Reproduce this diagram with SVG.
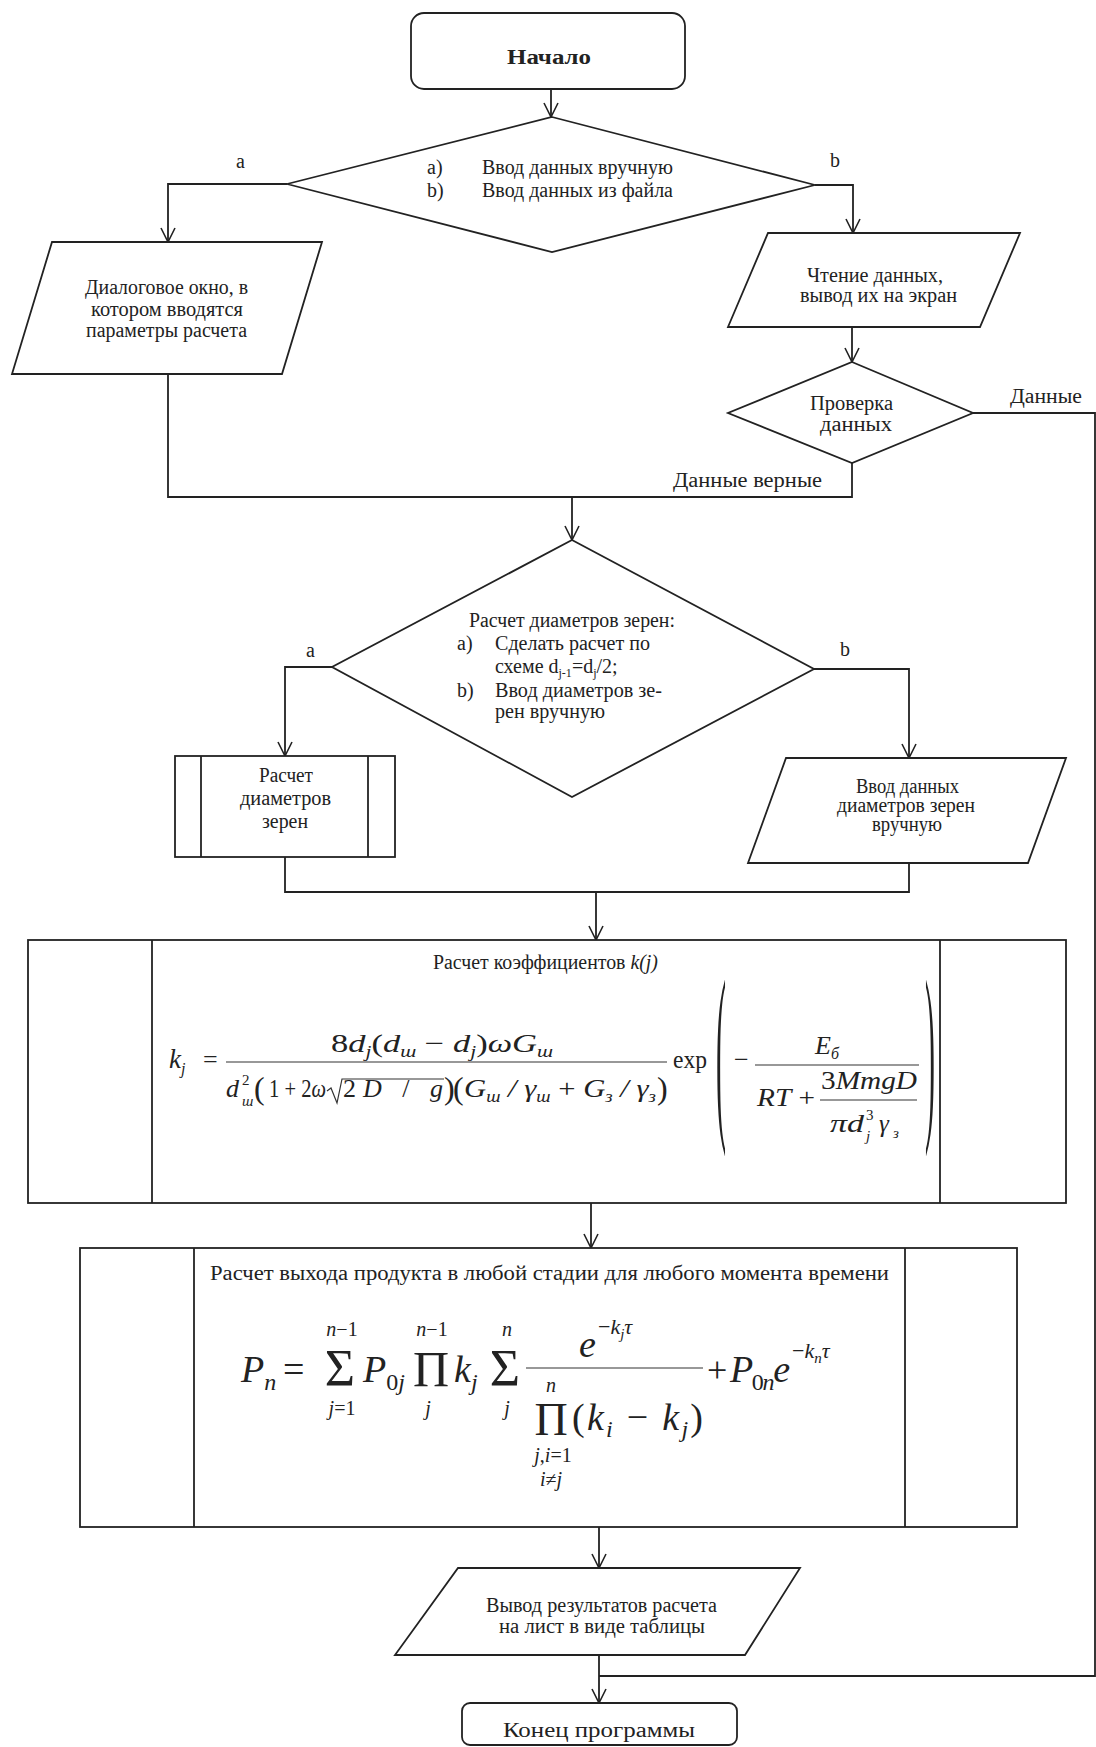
<svg xmlns="http://www.w3.org/2000/svg" width="1096" height="1747" viewBox="0 0 1096 1747">
<style>
  .t { font-family: "Liberation Serif", "Times New Roman", serif; font-size: 20px; fill: #222; }
  .b { font-weight: bold; }
  .m { font-family: "Liberation Serif", "Times New Roman", serif; font-style: italic; fill: #222; }
  .r { font-style: normal; }
  .shape { fill: #fff; stroke: #222; stroke-width: 1.8; }
  .ln { fill: none; stroke: #222; stroke-width: 1.8; }
  .conn path { fill: none; stroke: #222; stroke-width: 1.8; }
  .bar { stroke: #333; stroke-width: 1.2; }
</style>
<defs>
  <marker id="arr" viewBox="0 0 16 16" refX="15" refY="8" markerWidth="16" markerHeight="16" markerUnits="userSpaceOnUse" orient="auto">
    <path d="M1,1 L15,8 L1,15" fill="none" stroke="#222" stroke-width="1.6"/>
  </marker>
</defs>
<rect width="1096" height="1747" fill="#fff"/>

<g id="connectors" class="conn">
  <path d="M551,89 V117" marker-end="url(#arr)"/>
  <path d="M287,184 H168 V242" marker-end="url(#arr)"/>
  <path d="M815,185 H853 V233" marker-end="url(#arr)"/>
  <path d="M852,327 V362" marker-end="url(#arr)"/>
  <path d="M168,374 V497 H852 V463"/>
  <path d="M572,497 V540" marker-end="url(#arr)"/>
  <path d="M973,413 H1095 V1676 H599"/>
  <path d="M332,667 H285 V756" marker-end="url(#arr)"/>
  <path d="M814,669 H909 V758" marker-end="url(#arr)"/>
  <path d="M285,857 V892 H909 V863"/>
  <path d="M596,892 V940" marker-end="url(#arr)"/>
  <path d="M591,1203 V1248" marker-end="url(#arr)"/>
  <path d="M599,1527 V1568" marker-end="url(#arr)"/>
  <path d="M599,1655 V1703" marker-end="url(#arr)"/>
  <text class="t" x="236" y="168">a</text>
  <text class="t" x="830" y="167">b</text>
  <text class="t" x="1010" y="403" textLength="72" lengthAdjust="spacingAndGlyphs">Данные</text>
  <text class="t" x="673" y="487" textLength="149" lengthAdjust="spacingAndGlyphs">Данные верные</text>
  <text class="t" x="306" y="657">a</text>
  <text class="t" x="840" y="656">b</text>
</g>

<g id="start">
  <rect class="shape" x="411" y="13" width="274" height="76" rx="13"/>
  <text class="t b" x="507" y="64" font-size="21" textLength="84" lengthAdjust="spacingAndGlyphs">Начало</text>
</g>

<g id="choice-input">
  <polygon class="shape" points="552,117 815,185 552,252 287,184"/>
  <text class="t" x="427" y="174">a)</text>
  <text class="t" x="482" y="174" textLength="191" lengthAdjust="spacingAndGlyphs">Ввод данных вручную</text>
  <text class="t" x="427" y="197">b)</text>
  <text class="t" x="482" y="197" textLength="191" lengthAdjust="spacingAndGlyphs">Ввод данных из файла</text>
</g>

<g id="dialog">
  <polygon class="shape" points="52,242 322,242 282,374 12,374"/>
  <text class="t" x="85" y="294" textLength="163" lengthAdjust="spacingAndGlyphs">Диалоговое окно, в</text>
  <text class="t" x="91" y="316" textLength="152" lengthAdjust="spacingAndGlyphs">котором вводятся</text>
  <text class="t" x="86" y="337" textLength="161" lengthAdjust="spacingAndGlyphs">параметры расчета</text>
</g>

<g id="read-file">
  <polygon class="shape" points="768,233 1020,233 980,327 728,327"/>
  <text class="t" x="807" y="282" textLength="136" lengthAdjust="spacingAndGlyphs">Чтение данных,</text>
  <text class="t" x="800" y="302" textLength="157" lengthAdjust="spacingAndGlyphs">вывод их на экран</text>
</g>

<g id="check">
  <polygon class="shape" points="852,362 973,413 852,463 728,413"/>
  <text class="t" x="810" y="410" textLength="83" lengthAdjust="spacingAndGlyphs">Проверка</text>
  <text class="t" x="820" y="431" textLength="72" lengthAdjust="spacingAndGlyphs">данных</text>
</g>

<g id="choice-diam">
  <polygon class="shape" points="572,540 814,669 572,797 332,667"/>
  <text class="t" x="469" y="627" textLength="206" lengthAdjust="spacingAndGlyphs">Расчет диаметров зерен:</text>
  <text class="t" x="457" y="650">a)</text>
  <text class="t" x="495" y="650" textLength="155" lengthAdjust="spacingAndGlyphs">Сделать расчет по</text>
  <text class="t" x="495" y="673">схеме d<tspan font-size="12" dy="4">j-1</tspan><tspan dy="-4">=d</tspan><tspan font-size="12" dy="4">j</tspan><tspan dy="-4">/2;</tspan></text>
  <text class="t" x="457" y="697">b)</text>
  <text class="t" x="495" y="697" textLength="167" lengthAdjust="spacingAndGlyphs">Ввод диаметров зе-</text>
  <text class="t" x="495" y="718" textLength="110" lengthAdjust="spacingAndGlyphs">рен вручную</text>
</g>

<g id="calc-diam">
  <rect class="shape" x="175" y="756" width="220" height="101"/>
  <line class="ln" x1="201" y1="756" x2="201" y2="857"/>
  <line class="ln" x1="368" y1="756" x2="368" y2="857"/>
  <text class="t" x="259" y="782" textLength="54" lengthAdjust="spacingAndGlyphs">Расчет</text>
  <text class="t" x="240" y="805" textLength="91" lengthAdjust="spacingAndGlyphs">диаметров</text>
  <text class="t" x="262" y="828" textLength="46" lengthAdjust="spacingAndGlyphs">зерен</text>
</g>

<g id="input-diam">
  <polygon class="shape" points="786,758 1066,758 1028,863 748,863"/>
  <text class="t" x="856" y="793" font-size="17" textLength="103" lengthAdjust="spacingAndGlyphs">Ввод данных</text>
  <text class="t" x="837" y="812" font-size="17" textLength="138" lengthAdjust="spacingAndGlyphs">диаметров  зерен</text>
  <text class="t" x="872" y="831" font-size="17" textLength="70" lengthAdjust="spacingAndGlyphs">вручную</text>
</g>

<g id="calc-k">
  <rect class="shape" x="28" y="940" width="1038" height="263"/>
  <line class="ln" x1="152" y1="940" x2="152" y2="1203"/>
  <line class="ln" x1="940" y1="940" x2="940" y2="1203"/>
  <text class="t" x="433" y="969" font-size="18" textLength="225" lengthAdjust="spacingAndGlyphs">Расчет коэффициентов <tspan font-style="italic">k(j)</tspan></text>
  <!-- formula -->
  <text class="m" x="169" y="1068" font-size="27">k<tspan font-size="16" dy="6">j</tspan></text>
  <text class="m r" x="203" y="1068" font-size="26">=</text>
  <line class="bar" x1="226" y1="1062" x2="667" y2="1062"/>
  <text class="m" x="331" y="1052" font-size="26" textLength="222" lengthAdjust="spacingAndGlyphs"><tspan class="r">8</tspan>d<tspan font-size="16" dy="5">j</tspan><tspan class="r" dy="-5">(</tspan>d<tspan font-size="16" dy="5">ш</tspan><tspan class="r" dy="-5"> − </tspan>d<tspan font-size="16" dy="5">j</tspan><tspan class="r" dy="-5">)</tspan>ωG<tspan font-size="16" dy="5">ш</tspan></text>
  <text class="m" x="226" y="1097" font-size="26">d</text>
  <text class="m r" x="242" y="1085" font-size="15">2</text>
  <text class="m" x="242" y="1106" font-size="15">ш</text>
  <text class="m r" x="254" y="1099" font-size="32">(</text>
  <text class="m" x="269" y="1097" font-size="26" textLength="57" lengthAdjust="spacingAndGlyphs"><tspan class="r">1 + 2</tspan>ω</text>
  <polyline class="bar" fill="none" points="327,1091 331,1088 337,1103 342,1079 444,1079"/>
  <text class="m" x="343" y="1097" font-size="26" textLength="100" lengthAdjust="spacing"><tspan class="r">2</tspan>D<tspan class="r"> / </tspan>g</text>
  <text class="m r" x="444" y="1099" font-size="32">)</text>
  <text class="m r" x="453" y="1099" font-size="32">(</text>
  <text class="m" x="464" y="1097" font-size="26" textLength="192" lengthAdjust="spacingAndGlyphs">G<tspan font-size="16" dy="5">ш</tspan><tspan dy="-5"> / </tspan>γ<tspan font-size="16" dy="5">ш</tspan><tspan class="r" dy="-5"> + </tspan>G<tspan font-size="16" dy="5">з</tspan><tspan dy="-5"> / </tspan>γ<tspan font-size="16" dy="5">з</tspan></text>
  <text class="m r" x="657" y="1099" font-size="32">)</text>
  <text class="m r" x="673" y="1068" font-size="26" textLength="34" lengthAdjust="spacingAndGlyphs">exp</text>
  <text class="m r" font-size="30" transform="translate(716,1115) scale(1,6.5)">(</text>
  <text class="m r" font-size="30" transform="translate(925,1115) scale(1,6.5)">)</text>
  <text class="m r" x="734" y="1068" font-size="26">−</text>
  <line class="bar" x1="755" y1="1065" x2="919" y2="1065"/>
  <text class="m" x="815" y="1054" font-size="26">E<tspan font-size="16" dy="5">б</tspan></text>
  <text class="m" x="757" y="1106" font-size="26" textLength="58" lengthAdjust="spacingAndGlyphs">RT<tspan class="r"> +</tspan></text>
  <text class="m" x="821" y="1089" font-size="26" textLength="96" lengthAdjust="spacingAndGlyphs"><tspan class="r">3</tspan>MmgD</text>
  <line class="bar" x1="820" y1="1100" x2="917" y2="1100"/>
  <text class="m" x="830" y="1132" font-size="26" textLength="34" lengthAdjust="spacingAndGlyphs">πd</text>
  <text class="m r" x="866" y="1120" font-size="15">3</text>
  <text class="m" x="866" y="1141" font-size="15">j</text>
  <text class="m" x="879" y="1132" font-size="25">γ</text>
  <text class="m" x="893" y="1138" font-size="15">з</text>
</g>

<g id="calc-p">
  <rect class="shape" x="80" y="1248" width="937" height="279"/>
  <line class="ln" x1="194" y1="1248" x2="194" y2="1527"/>
  <line class="ln" x1="905" y1="1248" x2="905" y2="1527"/>
  <text class="t" x="210" y="1280" font-size="21" textLength="679" lengthAdjust="spacingAndGlyphs">Расчет выхода продукта в любой стадии для любого момента времени</text>
  <!-- formula -->
  <text class="m" x="241" y="1382" font-size="38">P<tspan font-size="24" dy="8">n</tspan></text>
  <text class="m r" x="283" y="1382" font-size="38">=</text>
  <text class="m r" x="340" y="1386" font-size="52" text-anchor="middle">Σ</text>
  <text class="m" x="342" y="1336" font-size="20" text-anchor="middle">n<tspan class="r">−1</tspan></text>
  <text class="m" x="342" y="1415" font-size="20" text-anchor="middle">j<tspan class="r">=1</tspan></text>
  <text class="m" x="363" y="1382" font-size="38">P<tspan font-size="24" dy="8"><tspan class="r">0</tspan>j</tspan></text>
  <text class="m r" x="431" y="1386" font-size="50" text-anchor="middle">Π</text>
  <text class="m" x="432" y="1336" font-size="20" text-anchor="middle">n<tspan class="r">−1</tspan></text>
  <text class="m" x="428" y="1415" font-size="20" text-anchor="middle">j</text>
  <text class="m" x="454" y="1382" font-size="38">k<tspan font-size="24" dy="8">j</tspan></text>
  <text class="m r" x="505" y="1386" font-size="52" text-anchor="middle">Σ</text>
  <text class="m" x="507" y="1336" font-size="20" text-anchor="middle">n</text>
  <text class="m" x="507" y="1415" font-size="20" text-anchor="middle">j</text>
  <line class="bar" x1="526" y1="1368" x2="703" y2="1368"/>
  <text class="m" x="579" y="1357" font-size="38">e</text>
  <text class="m" x="598" y="1334" font-size="22"><tspan class="r">−</tspan>k<tspan font-size="15" dy="5">j</tspan><tspan dy="-5">τ</tspan></text>
  <text class="m r" x="551" y="1435" font-size="46" text-anchor="middle">Π</text>
  <text class="m" x="551" y="1392" font-size="20" text-anchor="middle">n</text>
  <text class="m" x="572" y="1430" font-size="38" textLength="131" lengthAdjust="spacing"><tspan class="r">(</tspan>k<tspan font-size="24" dy="7">i</tspan><tspan class="r" dy="-7"> − </tspan>k<tspan font-size="24" dy="7">j</tspan><tspan class="r" dy="-7">)</tspan></text>
  <text class="m" x="553" y="1462" font-size="20" text-anchor="middle">j<tspan class="r">,</tspan>i<tspan class="r">=1</tspan></text>
  <text class="m" x="551" y="1486" font-size="20" text-anchor="middle">i<tspan class="r">≠</tspan>j</text>
  <text class="m r" x="707" y="1382" font-size="36">+</text>
  <text class="m" x="730" y="1382" font-size="38" textLength="60" lengthAdjust="spacing">P<tspan font-size="24" dy="8"><tspan class="r">0</tspan>n</tspan><tspan dy="-8">e</tspan></text>
  <text class="m" x="792" y="1358" font-size="22"><tspan class="r">−</tspan>k<tspan font-size="15" dy="5">n</tspan><tspan dy="-5">τ</tspan></text>
</g>

<g id="output">
  <polygon class="shape" points="458,1568 800,1568 745,1655 395,1655"/>
  <text class="t" x="486" y="1612" textLength="231" lengthAdjust="spacingAndGlyphs">Вывод результатов расчета</text>
  <text class="t" x="499" y="1633" textLength="206" lengthAdjust="spacingAndGlyphs">на лист в виде таблицы</text>
</g>

<g id="end">
  <rect class="shape" x="462" y="1703" width="275" height="42" rx="8"/>
  <text class="t" x="503" y="1737" font-size="23" textLength="192" lengthAdjust="spacingAndGlyphs">Конец программы</text>
</g>
</svg>
